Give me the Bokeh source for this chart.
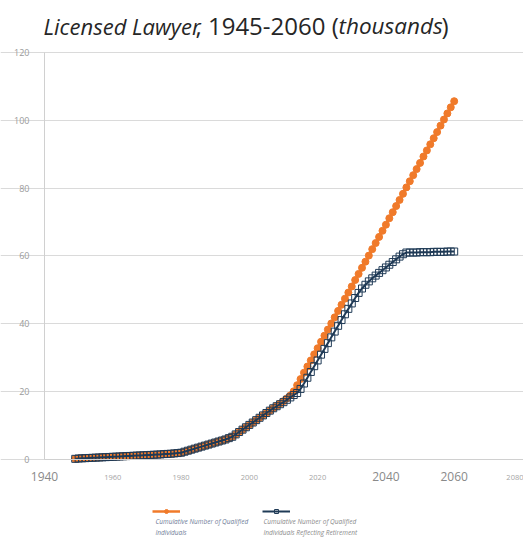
from bokeh.plotting import figure
from bokeh.models import Range1d, LinearAxis, FixedTicker, Legend, LegendItem, Label
from bokeh.embed import file_html
from bokeh.resources import INLINE

# ---- data (thousands) ----
years = list(range(1949, 2061))

qualified = [
    0.2, 0.3, 0.35, 0.4, 0.45, 0.5, 0.55, 0.6, 0.65, 0.7, 0.75,          # 1949-1959
    0.8, 0.85, 0.9, 0.95, 1.0, 1.05, 1.1, 1.15, 1.2, 1.25,               # 1960-1969
    1.3, 1.35, 1.4, 1.45, 1.5, 1.6, 1.65, 1.7, 1.8, 1.9,                 # 1970-1979
    2.0, 2.3, 2.6, 2.9, 3.2, 3.5, 3.8, 4.1, 4.4, 4.7,                    # 1980-1989
    5.0, 5.3, 5.6, 5.9, 6.3, 6.7, 7.4, 8.1, 8.8, 9.5,                    # 1990-1999
    10.2, 10.9, 11.6, 12.3, 13.0, 13.7, 14.4, 15.1, 15.8, 16.5,          # 2000-2009
    17.2, 18.0, 18.9, 20.1, 21.9, 23.7, 25.6, 27.4, 29.2, 31.0,          # 2010-2019
    32.8, 34.7, 36.5, 38.3, 40.1, 41.9, 43.8, 45.6, 47.4, 49.2,          # 2020-2029
    51.0, 52.9, 54.7, 56.5, 58.3, 60.1, 62.0, 63.8, 65.6, 67.4,          # 2030-2039
    69.2, 71.1, 72.9, 74.7, 76.5, 78.3, 80.2, 82.0, 83.8, 85.6,          # 2040-2049
    87.4, 89.3, 91.1, 92.9, 94.7, 96.5, 98.4, 100.2, 102.0, 103.8,       # 2050-2059
    105.6,                                                               # 2060
]

after_retirement = [
    0.2, 0.3, 0.35, 0.4, 0.45, 0.5, 0.55, 0.6, 0.65, 0.7, 0.75,          # 1949-1959
    0.8, 0.85, 0.9, 0.95, 1.0, 1.05, 1.1, 1.15, 1.2, 1.25,               # 1960-1969
    1.3, 1.35, 1.4, 1.45, 1.5, 1.6, 1.65, 1.7, 1.8, 1.9,                 # 1970-1979
    2.0, 2.3, 2.6, 2.9, 3.2, 3.5, 3.8, 4.1, 4.4, 4.7,                    # 1980-1989
    5.0, 5.3, 5.6, 5.9, 6.3, 6.7, 7.4, 8.1, 8.8, 9.5,                    # 1990-1999
    10.2, 10.9, 11.6, 12.3, 13.0, 13.7, 14.4, 15.1, 15.7, 16.3,          # 2000-2009
    16.9, 17.6, 18.3, 19.0, 19.6, 20.8, 22.4, 24.1, 25.8, 27.5,          # 2010-2019
    29.2, 30.9, 32.6, 34.3, 36.0, 37.7, 39.4, 41.1, 42.8, 44.4,          # 2020-2029
    46.0, 47.6, 49.1, 50.4, 51.5, 52.5, 53.4, 54.2, 55.0, 55.8,          # 2030-2039
    56.6, 57.4, 58.2, 59.0, 59.8, 60.5, 61.0, 61.0, 61.0, 61.0,          # 2040-2049
    61.1, 61.1, 61.1, 61.1, 61.2, 61.2, 61.2, 61.2, 61.3, 61.3,          # 2050-2059
    61.3,                                                                # 2060
]

y_ticks = [0, 20, 40, 60, 80, 100, 120]
x_ticks_large = [1940, 2040, 2060]
x_ticks_small = [1960, 1980, 2000, 2020, 2080]

title_parts = ["Licensed Lawyer", ", 1945-2060 (", "thousands", ")"]
series_names = ["Cumulative Number of Qualified\nIndividuals",
                "Cumulative Number of Qualified\nIndividuals Reflecting Retirement"]

ORANGE = "#F07A2A"
NAVY = "#1F3A56"
FONT = "Open Sans"
W, H = 523, 538

# the frame covers the whole canvas; axes are pinned at x=1940 / y=0
p = figure(width=W, height=H, output_backend="svg", toolbar_location=None,
           x_range=Range1d(1927.11, 2080.3), y_range=Range1d(-23.28, 135.28),
           min_border_left=0, min_border_right=0, min_border_top=0,
           min_border_bottom=0)
p.outline_line_color = None
p.xgrid.visible = False
p.ygrid.grid_line_color = "#dadada"
p.ygrid.grid_line_width = 1
p.ygrid.bounds = (1940, 2080.3)

# y axis
ya = p.yaxis[0]
ya.fixed_location = 1940
ya.ticker = FixedTicker(ticks=y_ticks)
ya.axis_line_color = "#d0d0d0"
ya.major_tick_line_color = None
ya.minor_tick_line_color = None
ya.major_label_text_font = FONT
ya.major_label_text_font_size = "9px"
ya.major_label_text_color = "#9a9a9a"
ya.major_label_standoff = 9
ya.bounds = (0, 120)
p.ygrid.ticker = ya.ticker

# x axis with large labels
xa = p.xaxis[0]
xa.fixed_location = 0
xa.ticker = FixedTicker(ticks=x_ticks_large)
xa.axis_line_color = "#d0d0d0"
xa.major_tick_line_color = None
xa.minor_tick_line_color = None
xa.major_label_text_font = FONT
xa.major_label_text_font_size = "12px"
xa.major_label_text_color = "#8a8a8a"
xa.major_label_standoff = 6
xa.bounds = (1940, 2080.3)

# x axis with small labels
xb = LinearAxis(fixed_location=0, ticker=FixedTicker(ticks=x_ticks_small))
xb.axis_line_color = None
xb.major_tick_line_color = None
xb.minor_tick_line_color = None
xb.major_label_text_font = FONT
xb.major_label_text_font_size = "7.5px"
xb.major_label_text_color = "#a5a5a5"
xb.major_label_standoff = 9
p.add_layout(xb, "below")

# series
l1 = p.line(years, qualified, line_color=ORANGE, line_width=2.5)
s1 = p.scatter(years, qualified, marker="circle", size=7, fill_color=ORANGE,
               line_color=ORANGE)
l2 = p.line(years, after_retirement, line_color=NAVY, line_width=2)
s2 = p.scatter(years, after_retirement, marker="square", size=7,
               fill_color=None, line_color=NAVY, line_width=1)

legend = Legend(items=[LegendItem(label=" ", renderers=[l1, s1]),
                       LegendItem(label=" ", renderers=[l2, s2])],
                location=(152, 22), orientation="horizontal",
                glyph_width=28, glyph_height=10, label_height=10,
                label_width=77, label_standoff=5, spacing=0, padding=0,
                margin=0, border_line_color=None, background_fill_alpha=0,
                label_text_font_size="7px")
p.add_layout(legend, "center")

for txt, x, color in [(series_names[0], 155, "#6f7d98"), (series_names[1], 263, "#8a8a8a")]:
    p.add_layout(Label(x=x, y=22, x_units="screen", y_units="screen", text=txt,
                       text_font=FONT, text_font_style="italic", text_font_size="6.5px",
                       text_color=color, text_baseline="top", text_align="left",
                       text_line_height=1.25))

# title in mixed styles
title_x = [43, 195, 338, 441]
title_style = ["italic", "normal", "italic", "normal"]
title_size = ["22px", "24px", "22.5px", "24px"]
for txt, x, st, sz in zip(title_parts, title_x, title_style, title_size):
    p.add_layout(Label(x=x, y=513, x_units="screen", y_units="screen", text=txt,
                       text_font=FONT, text_font_style=st, text_font_size=sz,
                       text_color="#262626", text_baseline="alphabetic",
                       text_align="left"))

open("out.html", "w").write(file_html(p, INLINE))
